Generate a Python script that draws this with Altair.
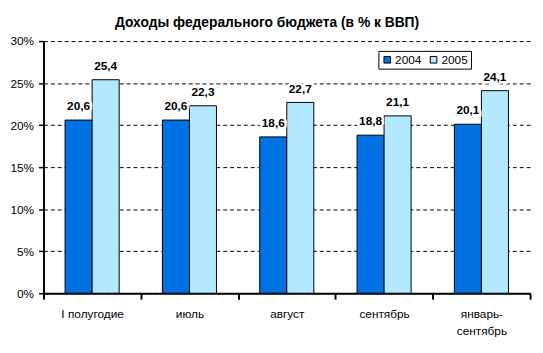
import altair as alt
import pandas as pd

categories = ["I полугодие", "июль", "август", "сентябрь", "январь-\nсентябрь"]
years = ["2004", "2005"]
values_2004 = [20.6, 20.6, 18.6, 18.8, 20.1]
values_2005 = [25.4, 22.3, 22.7, 21.1, 24.1]
labels_2004 = ["20,6", "20,6", "18,6", "18,8", "20,1"]
labels_2005 = ["25,4", "22,3", "22,7", "21,1", "24,1"]
y_ticks = [0, 5, 10, 15, 20, 25, 30]

rows = []
for i, c in enumerate(categories):
    rows.append({"cat": c, "year": "2004", "value": values_2004[i], "label": labels_2004[i]})
    rows.append({"cat": c, "year": "2005", "value": values_2005[i], "label": labels_2005[i]})
df = pd.DataFrame(rows)

FONT = "Liberation Sans"

x = alt.X("cat:N", sort=categories, title=None,
          scale=alt.Scale(paddingInner=0, paddingOuter=0),
          axis=alt.Axis(labelAngle=0, tickBand="extent", labelFontSize=12, labelColor="black",
                        labelFont=FONT, labelPadding=10, labelLineHeight=17,
                        labelExpr="isString(datum.value) ? split(datum.value, '\\n') : ''",
                        domainColor="black", domainWidth=2, tickColor="black", tickWidth=2,
                        tickSize=6, grid=False))
xoff = alt.XOffset("year:N", sort=years, scale=alt.Scale(paddingInner=0, paddingOuter=0.8))
y = alt.Y("value:Q", title=None,
          scale=alt.Scale(domain=[0, 30], nice=False),
          axis=alt.Axis(values=y_ticks, labelExpr="datum.value + '%'", labelFontSize=12,
                        labelColor="black", labelFont=FONT, labelPadding=5,
                        domainColor="black", domainWidth=2, tickColor="black", tickWidth=1.5,
                        tickSize=5, grid=True, gridColor="black", gridDash=[4, 3],
                        gridWidth=1))

bars = alt.Chart(df).mark_bar(stroke="black", strokeWidth=1).encode(
    x=x, xOffset=xoff, y=y,
    color=alt.Color("year:N", sort=years, title=None,
                    scale=alt.Scale(domain=years, range=["#0072E3", "#B3E8FF"]),
                    legend=alt.Legend(orient="none", legendX=340, legendY=10,
                                      direction="horizontal", strokeColor="black",
                                      padding=3, symbolType="square", symbolSize=45,
                                      symbolStrokeColor="black", symbolStrokeWidth=1,
                                      labelFontSize=12, labelFont=FONT, labelColor="black",
                                      columnPadding=6, labelOffset=2, fillColor="white"))
)

label_bg = alt.Chart(df).mark_text(fontSize=12, fontWeight="bold", font=FONT, baseline="alphabetic",
                                   dy=-10, color="white", stroke="white", strokeWidth=5).encode(
    x=x, xOffset=xoff, y=alt.Y("value:Q"), text="label:N")
labels = alt.Chart(df).mark_text(fontSize=12, fontWeight="bold", font=FONT, baseline="alphabetic",
                                 dy=-10, color="black").encode(
    x=x, xOffset=xoff, y=alt.Y("value:Q"), text="label:N")

chart = alt.layer(bars, label_bg, labels).properties(
    width=494, height=256,
    autosize=alt.AutoSizeParams(type="none"),
    padding={"left": 36, "top": 31, "right": 5, "bottom": 50},
    title=alt.TitleParams("Доходы федерального бюджета (в % к ВВП)", fontSize=14, fontWeight="bold",
                          font=FONT, color="black", anchor="middle", dx=-20, offset=5),
).configure_view(stroke=None)

chart.save("out.html", embed_options={"renderer": "svg", "actions": False})
